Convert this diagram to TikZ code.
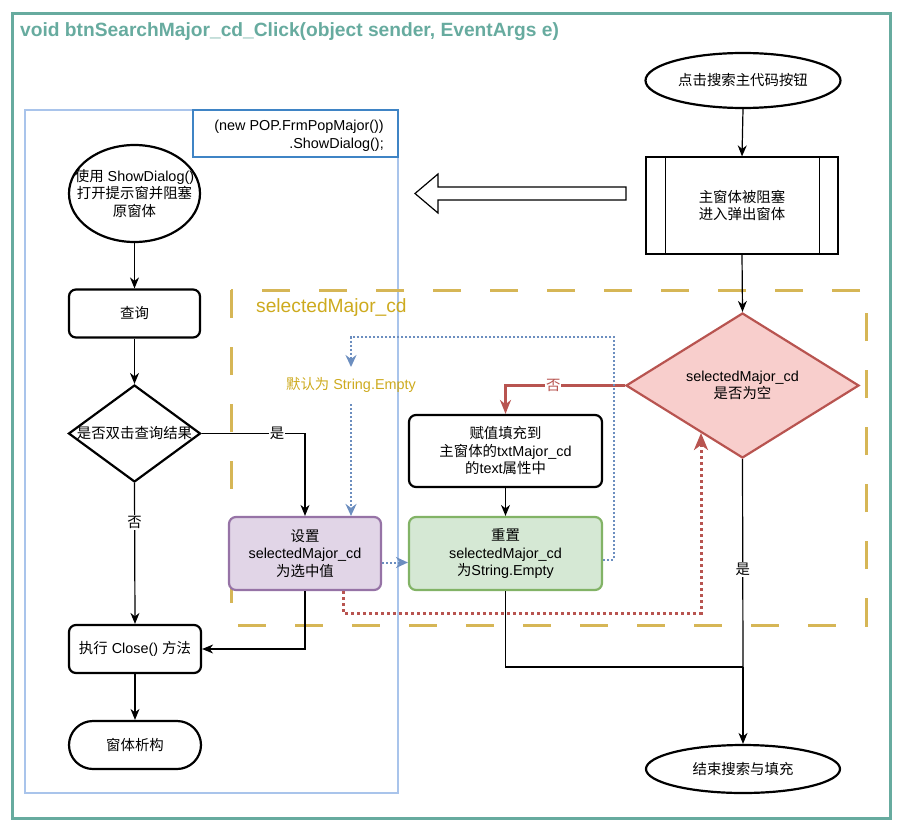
\documentclass[tikz,border=0pt]{standalone}
\usepackage{fontspec}
\setmainfont{Liberation Sans}
\newfontfamily\cjk{Noto Sans CJK SC}
\usetikzlibrary{shapes.geometric,arrows.meta,calc}
\newcommand\zh[1]{{\cjk #1}}
\definecolor{tealfr}{HTML}{67AB9F}
\definecolor{bluefr}{HTML}{A9C4EB}
\definecolor{codeblue}{HTML}{3F84C5}
\definecolor{goldln}{HTML}{D6B656}
\definecolor{goldtx}{HTML}{CDAA1E}
\definecolor{redfill}{HTML}{F8CECC}
\definecolor{redln}{HTML}{B85450}
\definecolor{purfill}{HTML}{E1D5E7}
\definecolor{purln}{HTML}{9673A6}
\definecolor{grnfill}{HTML}{D5E8D4}
\definecolor{grnln}{HTML}{82B366}
\definecolor{dotblue}{HTML}{6C8EBF}
\tikzset{
  txt/.style={font=\fontsize{14.4}{17.5}\selectfont, align=center, inner sep=0pt},
  rbox/.style={draw, line width=2.2pt, rounded corners=7pt, inner sep=0pt, txt},
  ell/.style={ellipse, draw, line width=2.2pt, inner sep=0pt},
  arr/.style={line width=1.2pt, -{Stealth[length=11pt,width=9pt,inset=3.5pt]}},
  lbl/.style={txt, fill=white, inner sep=1pt},
}
\begin{document}
\begin{tikzpicture}[x=1pt,y=-1pt]
\useasboundingbox (0,0) rectangle (904,832);
% outer frame
\draw[tealfr, line width=3pt] (12,14) rectangle (890,818);
\node[anchor=west, text=tealfr, font=\bfseries\fontsize{19.2}{22}\selectfont, inner sep=0] (title) at (20,32) {void btnSearchMajor\_cd\_Click(object sender, EventArgs e)};
% blue frame
\draw[bluefr, line width=1.2pt] (25,110) rectangle (398,793);
\draw[codeblue, line width=1.3pt] (193,110) rectangle (398,157);
\node[txt, align=right, anchor=east] (code) at (384,136) {(new POP.FrmPopMajor())\\.ShowDialog();};
% gold dashed frame
\draw[goldln, line width=3pt, dash pattern=on 28pt off 29pt] (231,290) rectangle (866,625);
\node[anchor=west, text=goldtx, font=\fontsize{19.2}{22}\selectfont, inner sep=0] (gtitle) at (256,308) {selectedMajor\_cd};
% left column
\node[ell, minimum width=131, minimum height=97] (e1) at (134.5,193.5) {};
\node[txt] (e1t) at (e1) {\zh{使用} ShowDialog()\\\zh{打开提示窗并阻塞}\\\zh{原窗体}};
\node[rbox, minimum width=131, minimum height=48] (q) at (134.5,313.5) {\zh{查询}};
\node[diamond, draw, line width=2.2pt, minimum width=132, minimum height=97, inner sep=0] (d1) at (134.5,433.5) {};
\node[txt] (d1t) at (d1) {\zh{是否双击查询结果}};
\node[rbox, minimum width=132, minimum height=48] (close) at (135,649) {\zh{执行} Close() \zh{方法}};
\node[rbox, rounded corners=24pt, minimum width=132, minimum height=48] (destr) at (135,745) {\zh{窗体析构}};
% middle
\node[rbox, fill=purfill, draw=purln, minimum width=152, minimum height=73] (set) at (305,553.5) {\zh{设置}\\selectedMajor\_cd\\\zh{为选中值}};
\node[rbox, fill=grnfill, draw=grnln, minimum width=193, minimum height=73] (reset) at (505.5,553.5) {\zh{重置}\\selectedMajor\_cd\\\zh{为}String.Empty};
\node[rbox, minimum width=193, minimum height=72] (fill) at (505.5,451) {\zh{赋值填充到}\\\zh{主窗体的}txtMajor\_cd\\\zh{的}text\zh{属性中}};
\node[txt, text=goldtx] (deft) at (351,385) {\zh{默认为} String.Empty};
% right column
\node[ell, minimum width=195, minimum height=55] (start) at (743,80.5) {};
\node[txt] (startt) at (start) {\zh{点击搜索主代码按钮}};
\node[draw, line width=1.2pt, minimum width=192, minimum height=97, inner sep=0, txt] (proc) at (742,205.5) {\zh{主窗体被阻塞}\\\zh{进入弹出窗体}};
\draw[line width=1.2pt] ([xshift=20]proc.north west) -- ([xshift=20]proc.south west);
\draw[line width=1.2pt] ([xshift=-19]proc.north east) -- ([xshift=-19]proc.south east);
\node[diamond, draw=redln, fill=redfill, line width=2.2pt, minimum width=233, minimum height=145, inner sep=0] (d2) at (742.5,385.5) {};
\node[txt] (d2t) at (d2) {selectedMajor\_cd\\\zh{是否为空}};
\node[ell, minimum width=194, minimum height=48] (endn) at (743,769) {};
\node[txt] (endt) at (endn) {\zh{结束搜索与填充}};
% hollow arrow
\draw[line width=1.2pt, fill=white] (626,187) -- (438,187) -- (438,174) -- (415,193.5) -- (438,213) -- (438,200) -- (626,200) -- cycle;
% coordinates
\coordinate (merge) at (743,667);
\coordinate (redcorner) at (701,613);
\coordinate (redend) at (701,433);
\coordinate (bluecorner) at (614,337);
\coordinate (bluetip) at (351,367);
\coordinate (bluestart) at (351,404);
% connectors
\draw[arr] (e1.south) -- (q.north);
\draw[arr] (q.south) -- (d1.north);
\draw[arr] (d1.east) -| node[lbl, pos=0.365] (yes1) {\zh{是}} (set.north);
\draw[arr] (d1.south) -- node[lbl, pos=0.28] (no1) {\zh{否}} (close.north);
\draw[arr] (close.south) -- (destr.north);
\draw[arr] (set.south) |- (close.east);
\draw[arr] (start.south) -- (proc.north);
\draw[arr] (proc.south) -- (d2.north);
\draw[line width=1.2pt] (d2.south) -- node[lbl, pos=0.53] (yes2) {\zh{是}} (merge);
\draw[arr] (merge) -- (endn.north);
\draw[line width=1.2pt] (reset.south) |- (merge);
\draw[arr] (fill.south) -- (reset.north);
\draw[redln, line width=2.2pt, -{Stealth[length=14pt,width=11pt,inset=4.5pt]}] (d2.west) -| node[lbl, pos=0.3] (no2) {\zh{否}} (fill.north);
% dotted
\draw[redln, line width=3pt, dash pattern=on 3pt off 3pt, -{Stealth[length=17pt,width=14pt,inset=5pt]}] ([xshift=38]set.south) |- (redcorner) -- (redend);
\draw[dotblue, line width=2pt, dash pattern=on 2pt off 2pt, -{Stealth[length=12pt,width=11pt,inset=4pt]}] ([yshift=-6]reset.east) -| (bluecorner) -| (bluetip);
\draw[dotblue, line width=2pt, dash pattern=on 2pt off 2pt, -{Stealth[length=12pt,width=11pt,inset=4pt]}] (bluestart) -- ([xshift=46]set.north);
\draw[dotblue, line width=2pt, dash pattern=on 2pt off 2pt, -{Stealth[length=12pt,width=11pt,inset=4pt]}] ([yshift=-9]set.east) -- ([yshift=-9]reset.west);
\end{tikzpicture}
\end{document}
